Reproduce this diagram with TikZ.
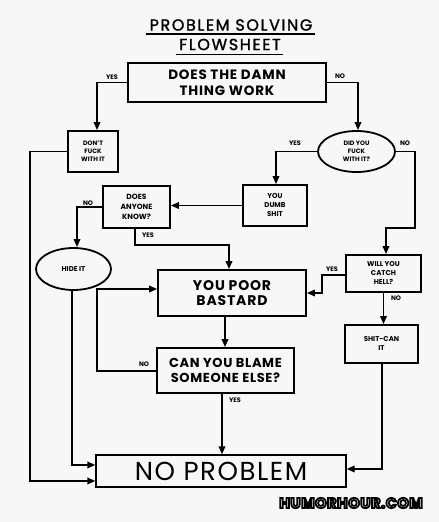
\documentclass[tikz,border=0pt]{standalone}
\usepackage{fontspec}
\setmainfont{Poppins}
\usetikzlibrary{arrows.meta,shapes.geometric,calc}
\begin{document}
\begin{tikzpicture}[x=1pt,y=-1pt,
  box/.style={draw,line width=1.8pt,inner sep=0pt,align=center},
  oval/.style={ellipse,draw,line width=1.8pt,inner sep=0pt,align=center},
  arr/.style={line width=1.8pt,-{Triangle[length=8pt,width=6.5pt]}},
  ln/.style={line width=1.8pt},
  lbl/.style={font=\fontsize{6.5}{7}\selectfont\bfseries,inner sep=0pt},
  tiny/.style={font=\fontsize{6.3}{8.2}\selectfont\bfseries},
  sml/.style={font=\fontsize{7}{9}\selectfont\bfseries},
  mid/.style={font=\fontsize{13.5}{15.5}\selectfont\bfseries\addfontfeatures{LetterSpace=6}},
  ttl/.style={font=\fontsize{16}{18}\selectfont\addfontfeatures{LetterSpace=10,FakeBold=1.5},inner sep=0pt},
  wm/.style={font=\fontsize{14.5}{16}\selectfont\bfseries\addfontfeatures{LetterSpace=4,FakeBold=12},inner sep=0pt}]
\useasboundingbox (0,0) rectangle (439,522);
\fill[black!3] (0,0) rectangle (439,522);

% title
\node[ttl] (t1) at (231,25) {PROBLEM SOLVING};
\node[ttl] (t2) at (230,44.5) {FLOWSHEET};
\draw[line width=1.6pt] ($(t1.south west)+(-3,3)$) -- ($(t1.south east)+(2,3)$);
\draw[line width=1.6pt] ($(t2.south west)+(-3,4)$) -- ($(t2.south east)+(2,4)$);

% nodes
\node[box,mid,minimum width=198pt,minimum height=39pt] (top) at (227,82.5) {DOES THE DAMN\\THING WORK};
\node[box,tiny,minimum width=50pt,minimum height=41pt] (dont) at (93,151.5) {DON'T\\FUCK\\WITH IT};
\node[oval,tiny,minimum width=77pt,minimum height=41pt] (didyou) at (356.5,151.5) {DID YOU\\FUCK\\WITH IT?};
\node[box,sml,minimum width=64pt,minimum height=41pt] (dumb) at (275,205.5) {YOU\\DUMB\\SHIT};
\node[box,font=\fontsize{7.5}{10}\selectfont\bfseries,minimum width=67pt,minimum height=42pt] (anyone) at (136.5,207) {DOES\\ANYONE\\KNOW?};
\node[oval,sml,minimum width=75pt,minimum height=42pt] (hide) at (73.5,269) {HIDE IT};
\node[box,mid,font=\fontsize{14}{14.5}\selectfont\bfseries\addfontfeatures{LetterSpace=6},minimum width=148pt,minimum height=46pt] (bastard) at (232,293) {YOU POOR\\BASTARD};
\node[box,sml,minimum width=75pt,minimum height=37pt] (catch) at (383.5,273.5) {WILL YOU\\CATCH\\HELL?};
\node[box,sml,minimum width=73pt,minimum height=38pt] (shitcan) at (381.5,344) {SHIT-CAN\\IT};
\node[box,font=\fontsize{13}{15}\selectfont\bfseries\addfontfeatures{LetterSpace=5},minimum width=137pt,minimum height=45pt] (blame) at (225.5,370.5) {CAN YOU BLAME\\SOMEONE ELSE?};
\node[draw,line width=1.3pt,inner sep=0pt,font=\fontsize{26}{28}\selectfont\addfontfeatures{LetterSpace=6},minimum width=250pt,minimum height=32pt] (noprob) at (221,471) {NO PROBLEM};

% bend coordinates
\coordinate (c1) at (30,481);
\coordinate (c2) at (72,465);
\coordinate (n1) at (415,228);
\coordinate (y1) at (135,245);
\coordinate (y2) at (322,275);
\coordinate (s1) at (382,469);
\coordinate (b1) at (225,0);
\coordinate (n2) at (97,371);
\coordinate (b2) at (222,0);

% connectors
\draw[arr] (top.west) -| ([xshift=4pt]dont.north);
\draw[arr] (top.east) -| ([xshift=1.5pt]didyou.north);
\draw[arr] (dont.west) -| (c1) -- (c1 -| noprob.west);
\draw[arr] (didyou.west) -| ([xshift=1pt]dumb.north);
\draw[arr] (didyou.east) -| (n1) -| ([xshift=2.5pt]catch.north);
\draw[arr] (dumb.west) -- (dumb.west -| anyone.east);
\draw[arr] (anyone.west) -| ([xshift=3.5pt]hide.north);
\draw[arr] (hide.south -| c2) -- (c2) -- (c2 -| noprob.west);
\draw[arr] (anyone.south -| y1) -- (y1) -| ([xshift=-3pt]bastard.north);
\draw[arr] (catch.west |- y2) -- (y2) |- (bastard.east);
\draw[arr] (catch.south) -- (catch.south |- shitcan.north);
\draw[arr] (shitcan.south -| s1) -- (s1) -- (s1 -| noprob.east);
\draw[arr] (bastard.south -| b1) -- (blame.north -| b1);
\draw[arr] (blame.west |- n2) -- (n2) |- ([yshift=4pt]bastard.west);
\draw[arr] (blame.south -| b2) -- (noprob.north -| b2);

% labels
\node[lbl] (lyes1) at (112,77) {YES};
\node[lbl] (lno1) at (340,76) {NO};
\node[lbl] (lyes2) at (295,143) {YES};
\node[lbl] (lno2) at (405,143) {NO};
\node[lbl] (lno3) at (88,203) {NO};
\node[lbl] (lyes3) at (148,235) {YES};
\node[lbl] (lyes4) at (332,269) {YES};
\node[lbl] (lno4) at (396,298) {NO};
\node[lbl] (lno5) at (144,364) {NO};
\node[lbl] (lyes5) at (235,400) {YES};

% watermark
\node[wm,text=white] (wm) at (351,503) {\special{pdf:literal direct 0 0 0 RG}HUMORHOUR.COM};
\end{tikzpicture}
\end{document}
